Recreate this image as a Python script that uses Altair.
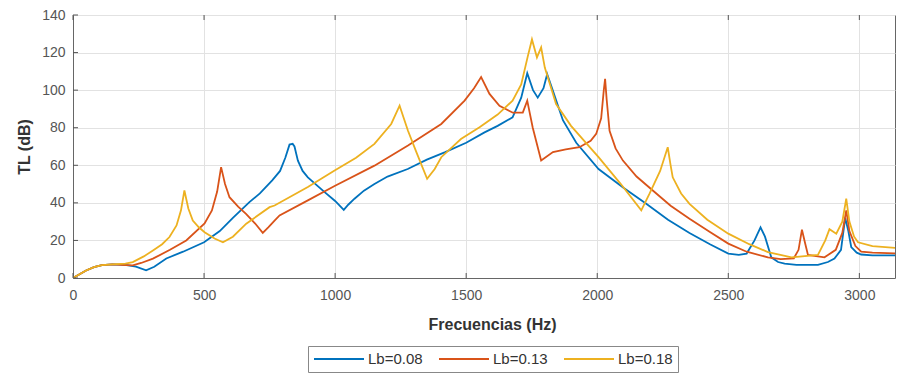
import altair as alt
import pandas as pd

# ---- data ----
series_names = ["Lb=0.08", "Lb=0.13", "Lb=0.18"]
series_colors = ["#0072BD", "#D95319", "#EDB120"]

f_008 = [0, 25, 50, 80, 110, 150, 200, 240, 279, 310, 356, 420, 500, 560, 610, 673, 713, 760, 790,
         810, 826, 838, 845, 858, 876, 896, 960, 1000, 1033, 1050, 1074, 1110, 1150, 1200, 1277, 1350,
         1420, 1500, 1570, 1620, 1677, 1710, 1733, 1755, 1773, 1795, 1809, 1830, 1869, 1920, 2005,
         2100, 2187, 2270, 2352, 2430, 2500, 2540, 2570, 2600, 2623, 2640, 2664, 2690, 2715, 2760,
         2842, 2880, 2905, 2930, 2946, 2958, 2969, 2990, 3007, 3050, 3170]
tl_008 = [0, 2, 4, 5.8, 6.8, 7.2, 7, 6, 4.1, 6, 10.4, 14, 19, 25, 32, 40.4, 45, 52, 57,
          64, 71, 71.4, 70, 62.5, 57, 53.6, 45.7, 41, 36.3, 39, 42.2, 46.5, 50, 54, 58, 63,
          67, 72, 77.5, 81, 85.5, 96, 109, 100, 96, 101, 108.5, 100, 84, 72, 58,
          48, 39.5, 31, 24, 18, 13, 12.3, 13, 20, 27, 22, 11, 8.5, 7.6, 7,
          7, 8.5, 10.3, 15, 32, 25, 16.5, 13.5, 12.5, 12, 12]

f_013 = [0, 25, 50, 80, 110, 150, 200, 228, 260, 305, 370, 432, 502, 530, 550, 565, 580, 597, 630,
         661, 695, 724, 745, 769, 788, 896, 998, 1150, 1278, 1405, 1494, 1530, 1557, 1589, 1627,
         1678, 1716, 1733, 1754, 1786, 1831, 1880, 1932, 1975, 1996, 2015, 2025, 2030, 2036, 2047,
         2070, 2098, 2150, 2212, 2280, 2352, 2430, 2500, 2570, 2651, 2700, 2750, 2768, 2781, 2794,
         2804, 2867, 2910, 2935, 2950, 2962, 2985, 3007, 3050, 3170]
tl_013 = [0, 2, 4, 5.8, 6.8, 7.2, 6.9, 6.7, 8, 10.3, 15, 20, 29, 36, 46, 59, 50, 43, 38,
          34, 29, 24, 27, 30.6, 33.3, 41.3, 49, 59.8, 70.5, 82, 94.4, 101, 107, 98, 91.7,
          88, 88, 94.4, 80, 62.5, 67, 68.5, 69.6, 73, 76.7, 85, 100, 106, 95, 78.4,
          69, 62.5, 54, 46.6, 38.5, 31.5, 24.5, 18.3, 14, 11, 10, 10.5, 15, 25.7, 18,
          12.3, 11, 15, 24, 36, 25, 17, 14, 13.5, 13]

f_018 = [0, 25, 50, 80, 110, 150, 200, 228, 270, 305, 340, 368, 395, 412, 425, 440, 457, 480, 502,
         540, 572, 610, 661, 750, 769, 896, 998, 1080, 1150, 1214, 1246, 1262, 1278, 1310, 1351,
         1380, 1405, 1480, 1551, 1620, 1677, 1710, 1735, 1751, 1770, 1786, 1800, 1843, 1900, 2005,
         2090, 2168, 2200, 2240, 2269, 2280, 2288, 2320, 2352, 2420, 2500, 2580, 2651, 2741, 2842,
         2870, 2886, 2912, 2935, 2950, 2962, 2980, 2995, 3050, 3170]
tl_018 = [0, 2, 4, 5.8, 6.9, 7.3, 7.6, 8.5, 11.5, 14.7, 18, 21.8, 28, 36, 46.6, 37, 30.6, 27, 24.4,
          21, 19, 22, 28.9, 37.7, 38.6, 48.4, 57.2, 64, 71.4, 82, 91.7, 85, 78.4, 67, 52.8,
          58, 64.3, 74, 80.2, 87, 94.4, 103, 118, 127, 117.4, 122.7, 112, 92.6, 81, 64.3,
          50, 36, 45, 57, 69.6, 60, 53.6, 45, 39.5, 31, 23.6, 18, 13.8, 11, 12.3,
          20, 26, 23.6, 30, 42.2, 30, 22, 19, 17, 15.6]

x_ticks = [0, 500, 1000, 1500, 2000, 2500, 3000]
y_ticks = [0, 20, 40, 60, 80, 100, 120, 140]

# ---- build tables ----
rows = []
for name, fs, tls in zip(series_names, [f_008, f_013, f_018], [tl_008, tl_013, tl_018]):
    for i, (f, t) in enumerate(zip(fs, tls)):
        rows.append({"f": f, "TL": t, "Lb": name, "i": i})
df = pd.DataFrame(rows)
xt = pd.DataFrame({"f": x_ticks})
yt = pd.DataFrame({"TL": y_ticks})

W, H = 822, 263
xscale = alt.Scale(domain=[0, 3136], nice=False, zero=False)
yscale = alt.Scale(domain=[0, 140], nice=False)

x_axis = alt.Axis(title="Frecuencias (Hz)", values=x_ticks, tickCount=7, format="d", tickSize=0,
                  labelPadding=10, labelOverlap=False, labelFlush=False,
                  titleX=419, titleY=46, titleBaseline="middle")
y_axis = alt.Axis(title="TL (dB)", values=y_ticks, tickCount=8, format="d", tickSize=0,
                  labelPadding=8, labelOverlap=False, labelFlush=False,
                  titleX=-49, titleY=H / 2, titleBaseline="middle", titleAlign="center")

lines = alt.Chart(df).mark_line(strokeWidth=1.8, clip=True).encode(
    x=alt.X("f:Q", scale=xscale, axis=x_axis),
    y=alt.Y("TL:Q", scale=yscale, axis=y_axis),
    color=alt.Color("Lb:N", scale=alt.Scale(domain=series_names, range=series_colors), title=None,
                    legend=alt.Legend(orient="none", legendX=235, legendY=331, direction="horizontal",
                                      symbolType="stroke", symbolSize=2500, symbolStrokeWidth=2,
                                      clipHeight=16, labelFontSize=15, labelColor="#333333",
                                      labelFont="Liberation Sans", labelOffset=3, columnPadding=15,
                                      padding=5, strokeColor="#888888", fillColor="white")),
    order="i:Q",
)

tick_color = "#555555"
bottom_ticks = alt.Chart(xt).mark_rule(color=tick_color, strokeWidth=1).encode(
    x=alt.X("f:Q", scale=xscale, axis=x_axis), y=alt.value(H), y2=alt.value(H - 5))
top_ticks = alt.Chart(xt).mark_rule(color=tick_color, strokeWidth=1).encode(
    x=alt.X("f:Q", scale=xscale, axis=x_axis), y=alt.value(0), y2=alt.value(5))
left_ticks = alt.Chart(yt).mark_rule(color=tick_color, strokeWidth=1).encode(
    y=alt.Y("TL:Q", scale=yscale, axis=y_axis), x=alt.value(0), x2=alt.value(5))

chart = alt.layer(lines, bottom_ticks, top_ticks, left_ticks).properties(
    width=W, height=H,
    padding={"left": 65, "top": 7, "right": 1, "bottom": 95},
    autosize=alt.AutoSizeParams(type="none"),
).configure_view(
    stroke="#666666", strokeWidth=1
).configure_axis(
    grid=True, gridColor="#e2e2e2", gridWidth=1,
    domainColor="#666666", domainWidth=1,
    labelFont="Liberation Sans", labelFontSize=14, labelColor="#555555",
    titleFont="Liberation Sans", titleFontSize=16, titleFontWeight="bold", titleColor="#333333",
)

chart.save("out.html", embed_options={"renderer": "svg", "actions": False})
